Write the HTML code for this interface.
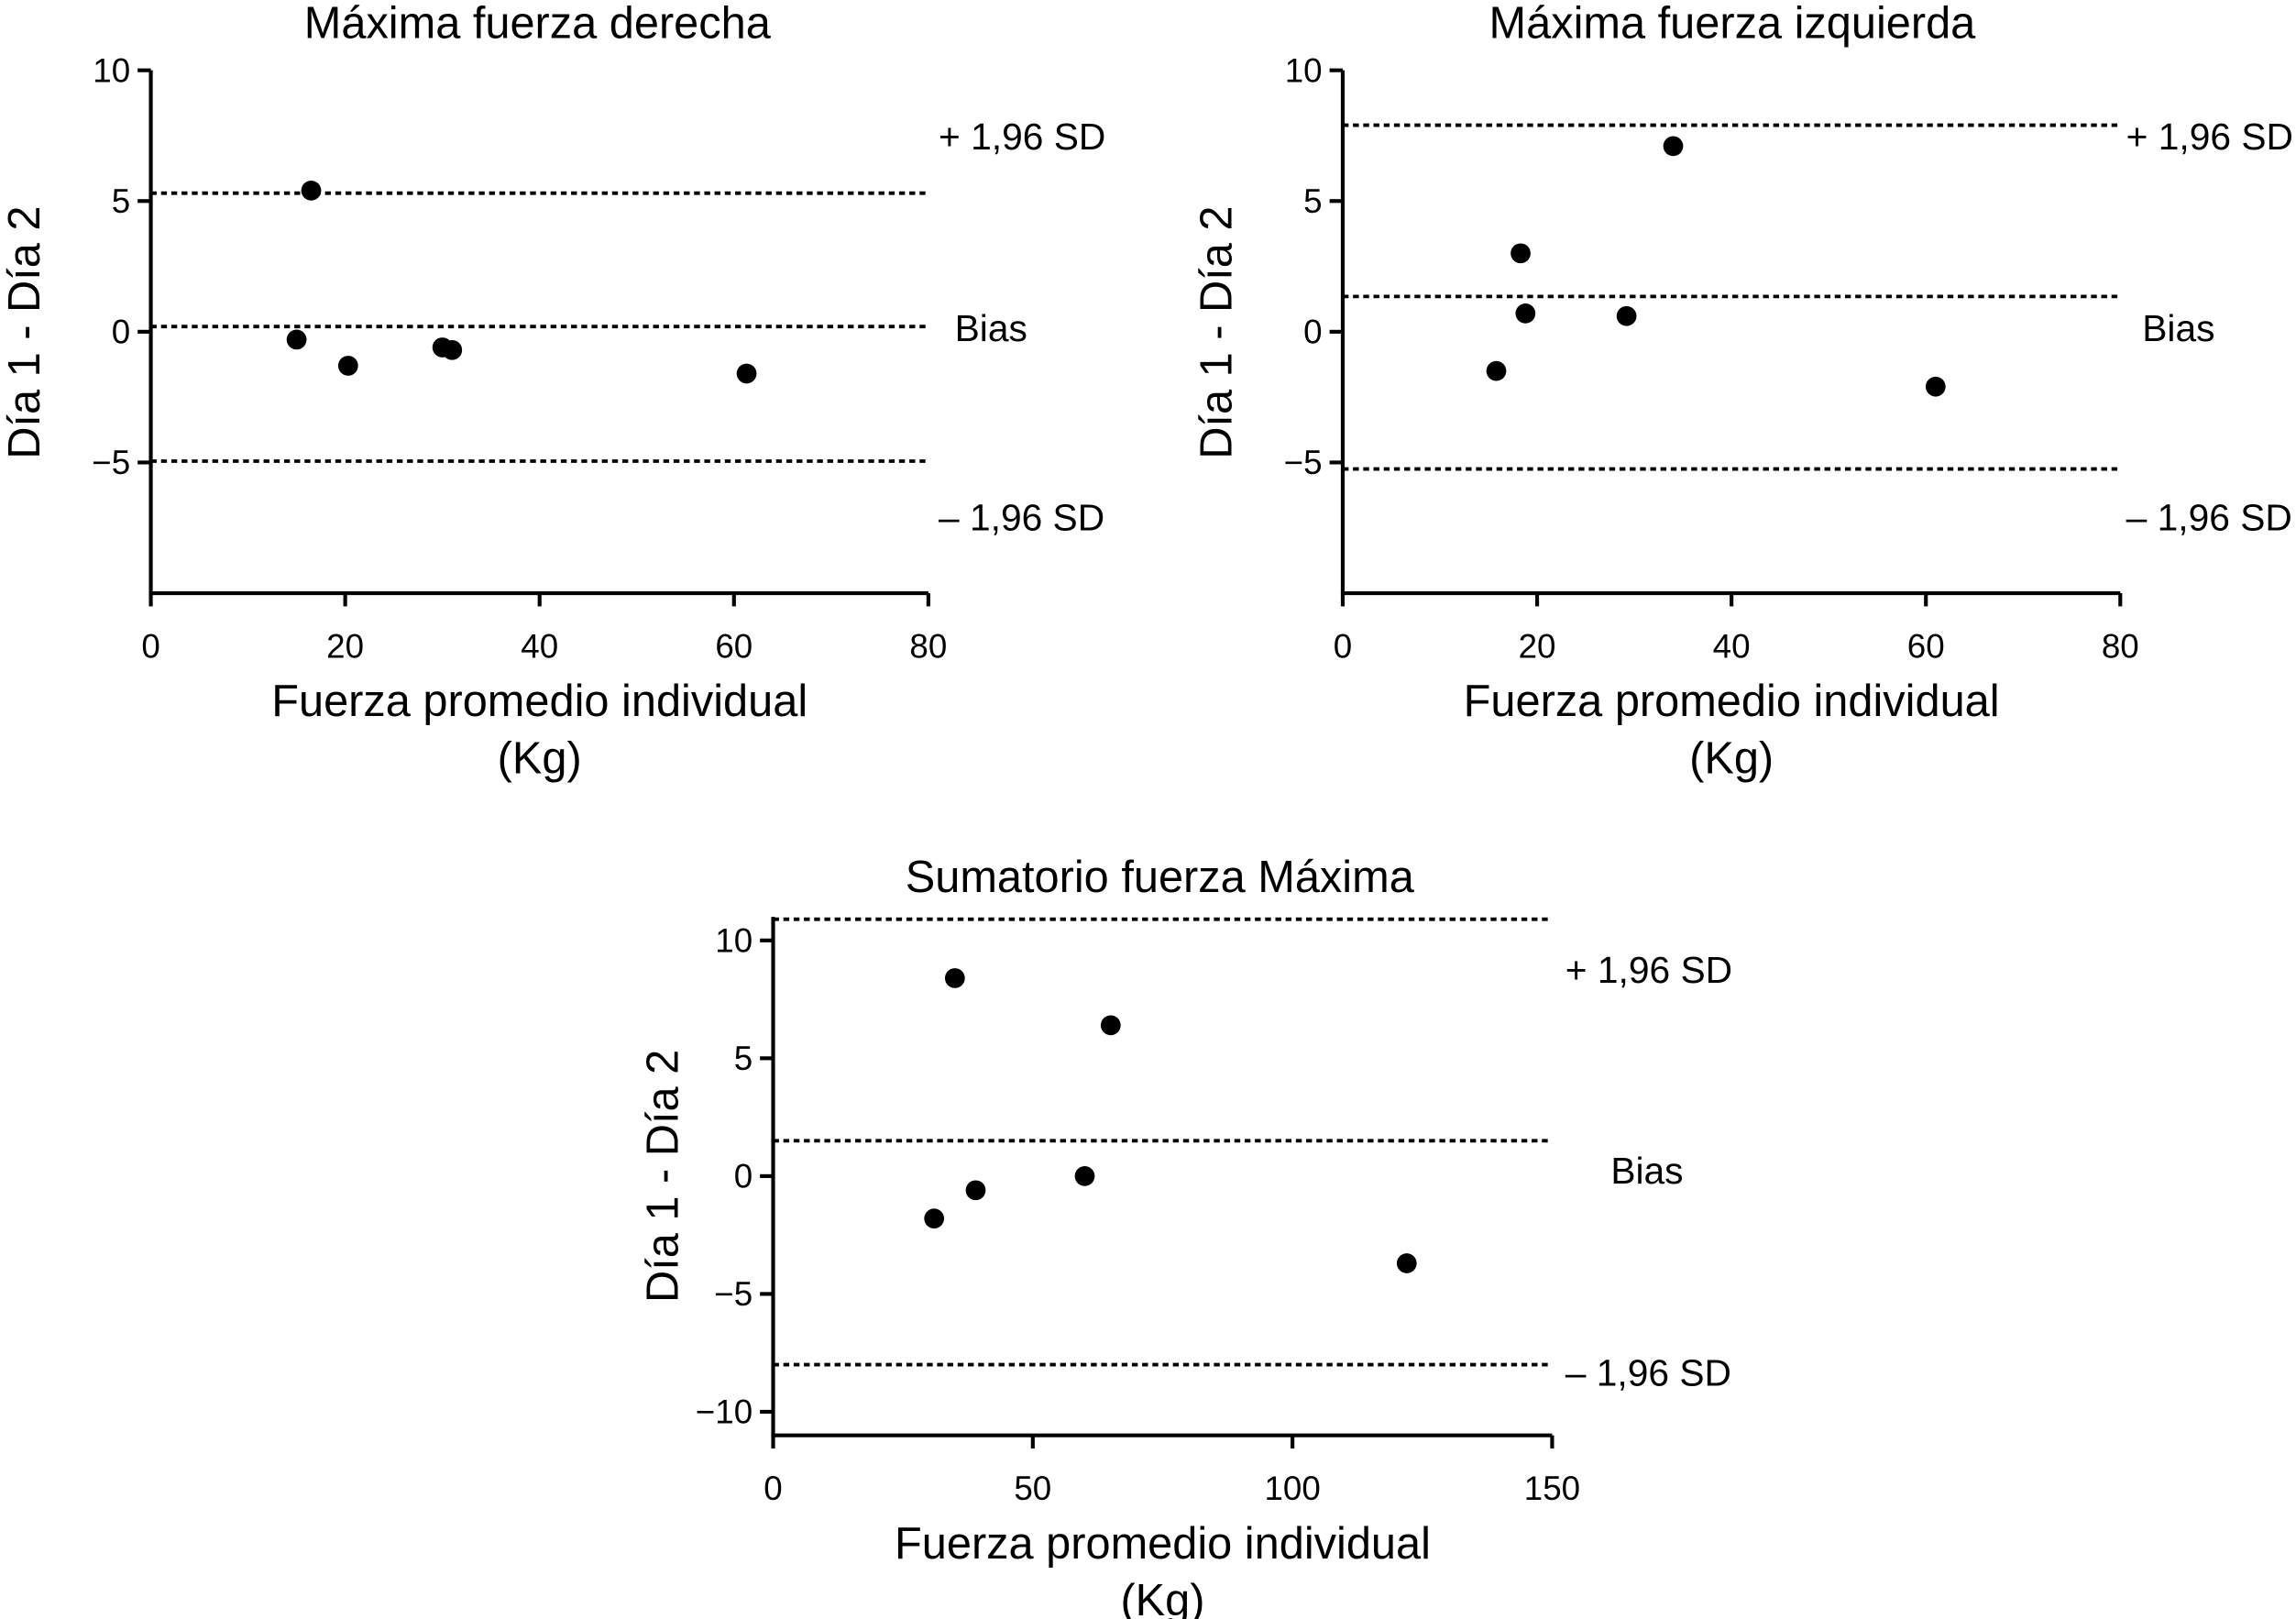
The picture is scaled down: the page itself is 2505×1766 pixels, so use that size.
<!DOCTYPE html>
<html><head><meta charset="utf-8"><style>
html,body{margin:0;padding:0;background:#fff;}
svg{display:block;font-family:"Liberation Sans",Arial,sans-serif;}
</style></head><body>
<svg id="c" width="2505" height="1766" viewBox="0 0 1568 1105.4" preserveAspectRatio="none" xmlns="http://www.w3.org/2000/svg"></svg>
<script>
// Panel 1 data
const p1X = [16.5, 15, 20.3, 30, 31, 61.3];
const p1Y = [5.4, -0.3, -1.3, -0.6, -0.7, -1.6];
const p1Lines = [5.3, 0.2, -4.95];
// Panel 2 data
const p2X = [34, 18.3, 18.8, 29.2, 15.8, 61];
const p2Y = [7.1, 3.0, 0.7, 0.6, -1.5, -2.1];
const p2Lines = [7.9, 1.35, -5.25];
// Panel 3 data
const p3X = [35, 65, 31, 39, 60, 122];
const p3Y = [8.4, 6.4, -1.8, -0.6, 0, -3.7];
const p3Lines = [10.9, 1.5, -8.0];
const lineLabels = ["+ 1,96 SD", "Bias", "\u2013 1,96 SD"];
const xTicks12 = [0, 20, 40, 60, 80];
const yTicks12 = [10, 5, 0, -5];
const xTicks3 = [0, 50, 100, 150];
const yTicks3 = [10, 5, 0, -5, -10];

const svg = document.getElementById('c');
const NS = 'http://www.w3.org/2000/svg';
function mk(tag, attrs, parent, text) {
  const e = document.createElementNS(NS, tag);
  for (const k in attrs) e.setAttribute(k, attrs[k]);
  if (text !== undefined) e.textContent = text;
  parent.appendChild(e);
  return e;
}

function panel(cfg, xs, ys, lines, xt, yt, name) {
  const g = mk('g', {}, svg);
  
  
  const sx = v => cfg.x0 + (v - cfg.xmin) / (cfg.xmax - cfg.xmin) * (cfg.x1 - cfg.x0);
  const sy = v => cfg.yb + (v - cfg.ymin) / (cfg.ymax - cfg.ymin) * (cfg.yt - cfg.yb);
  const t = mk('text', {x: cfg.titleX, y: cfg.titleY, 'font-size': 30.5, 'text-anchor': 'middle'}, g, cfg.title);
  
  
  const ya = mk('line', {x1: cfg.x0, x2: cfg.x0, y1: cfg.yt, y2: cfg.yb, stroke: '#000', 'stroke-width': 2.6}, g);
  
  
  const xa = mk('line', {x1: cfg.x0 - 1.3, x2: cfg.x1, y1: cfg.yb, y2: cfg.yb, stroke: '#000', 'stroke-width': 2.6}, g);
  
  
  yt.forEach(v => {
    mk('line', {x1: cfg.x0 - 9, x2: cfg.x0, y1: sy(v), y2: sy(v), stroke: '#000', 'stroke-width': 2.6}, g);
    const l = mk('text', {x: cfg.x0 - 14, y: sy(v) + 8, 'font-size': 23, 'text-anchor': 'end'}, g, v < 0 ? '\u2212' + (-v) : String(v));
    
    
  });
  xt.forEach(v => {
    mk('line', {x1: sx(v), x2: sx(v), y1: cfg.yb, y2: cfg.yb + 9, stroke: '#000', 'stroke-width': 2.6}, g);
    const l = mk('text', {x: sx(v), y: cfg.yb + 44, 'font-size': 23, 'text-anchor': 'middle'}, g, String(v));
    
    
  });
  const cx = (cfg.x0 + cfg.x1) / 2;
  const xl = mk('text', {x: cx, y: cfg.yb + 84, 'font-size': 30.5, 'text-anchor': 'middle'}, g, 'Fuerza promedio individual');
  
  
  const xl2 = mk('text', {x: cx, y: cfg.yb + 123, 'font-size': 30.5, 'text-anchor': 'middle'}, g, '(Kg)');
  
  
  const ymid = cfg.ylY;
  const yl = mk('text', {x: 0, y: 0, 'font-size': 30.5, 'text-anchor': 'middle', transform: `translate(${cfg.ylX},${ymid}) rotate(-90)`}, g, 'Día 1 - Día 2');
  
  
  const lnNames = ['upper-limit-line', 'bias-line', 'lower-limit-line'];
  lines.forEach((v, i) => {
    const l = mk('line', {x1: cfg.x0, x2: cfg.x1 + cfg.lineExt, y1: sy(v), y2: sy(v), stroke: '#000', 'stroke-width': 2.4, 'stroke-dasharray': '4 3'}, g);
    
    
    const lb = mk('text', {x: cfg.labX[i], y: cfg.labY[i], 'font-size': 25.5, 'text-anchor': 'start'}, g, lineLabels[i]);
    
    
  });
  xs.forEach((v, i) => {
    const p = mk('circle', {cx: sx(v), cy: sy(ys[i]), r: 6.8, fill: '#000'}, g);
    
    
  });
}

panel({x0:103,x1:634,xmin:0,xmax:80,yt:48,yb:405,ymin:-10,ymax:10,title:'Máxima fuerza derecha',titleX:367,titleY:26,ylX:27,ylY:227,lineExt:0,
  labX:[641,652,641],labY:[102,233,362]}, p1X, p1Y, p1Lines, xTicks12, yTicks12, 'panel-right-hand');
panel({x0:917,x1:1448,xmin:0,xmax:80,yt:48,yb:405,ymin:-10,ymax:10,title:'Máxima fuerza izquierda',titleX:1183,titleY:26,ylX:841,ylY:227,lineExt:0,
  labX:[1452,1463,1452],labY:[102,233,362]}, p2X, p2Y, p2Lines, xTicks12, yTicks12, 'panel-left-hand');
panel({x0:528,x1:1060,xmin:0,xmax:150,yt:626,yb:980,ymin:-11,ymax:11,title:'Sumatorio fuerza Máxima',titleX:792,titleY:609,ylX:463,ylY:803,lineExt:0,
  labX:[1069,1100,1069],labY:[671,808,946]}, p3X, p3Y, p3Lines, xTicks3, yTicks3, 'panel-sum');
</script>
</body></html>
